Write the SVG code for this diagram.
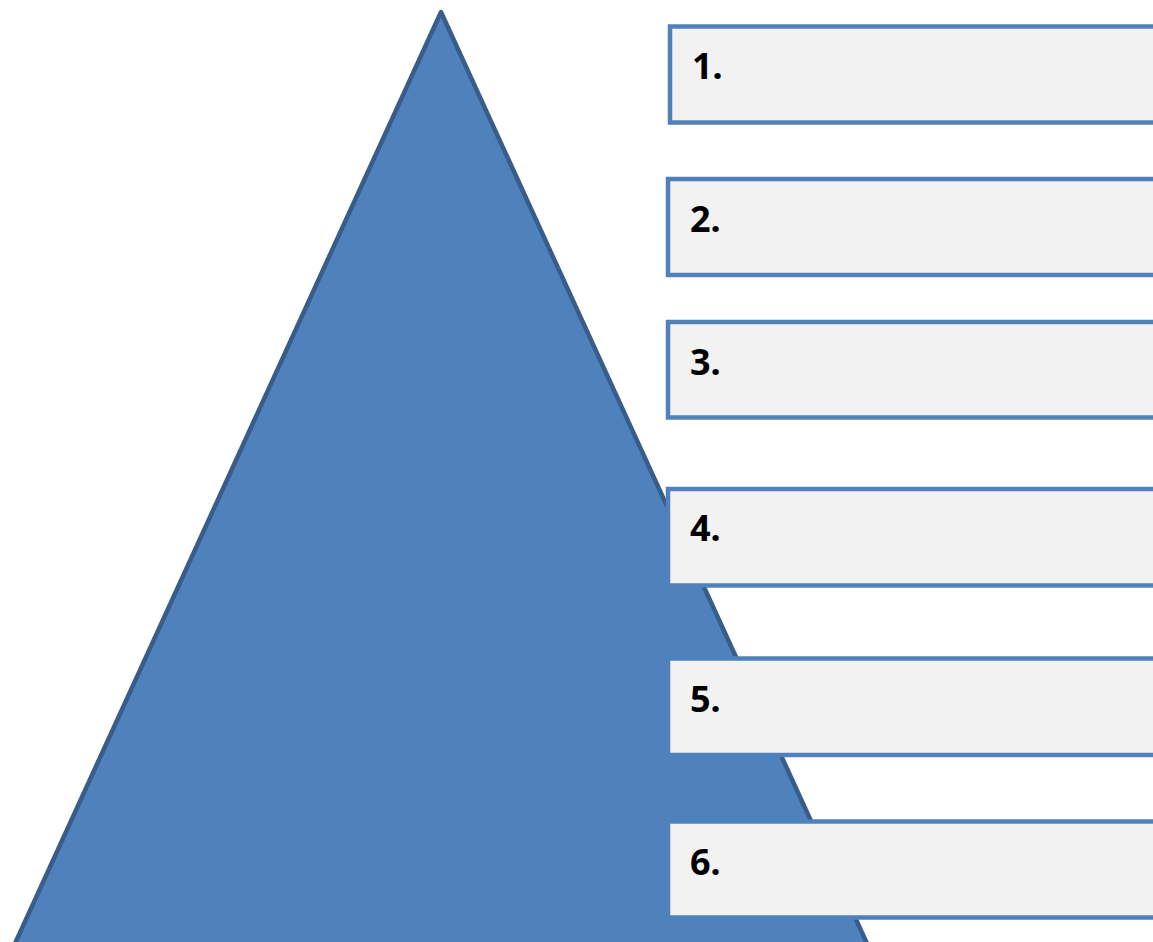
<svg xmlns="http://www.w3.org/2000/svg" width="1153" height="942" viewBox="0 0 1153 942">
<style>
.tri{fill:#4F81BD;stroke:#385D8A;stroke-width:4.5;stroke-linejoin:round}
.box{fill:#F2F2F2;stroke:#4F81BD;stroke-width:4.5}
.lbl{font-family:"Noto Sans","Open Sans",sans-serif;font-weight:bold;font-size:36px;fill:#000}
</style>
<rect width="1153" height="942" fill="#FFFFFF"/>
<g id="pyramid"><polygon class="tri" points="441,12 12,950 870,950"/></g>
<g id="connectors"/>
<g id="item1"><rect class="box" x="670" y="26.5" width="500" height="96"/><text class="lbl" x="692" y="79">1.</text></g>
<g id="item2"><rect class="box" x="668" y="179" width="500" height="96"/><text class="lbl" x="690" y="231.5">2.</text></g>
<g id="item3"><rect class="box" x="668" y="322" width="500" height="95.5"/><text class="lbl" x="690" y="375">3.</text></g>
<g id="item4"><rect class="box" x="668" y="489" width="500" height="96.5"/><text class="lbl" x="690" y="541">4.</text></g>
<g id="item5"><rect class="box" x="668" y="658.5" width="500" height="96.5"/><text class="lbl" x="690" y="711.5">5.</text></g>
<g id="item6"><rect class="box" x="668" y="821.5" width="500" height="96"/><text class="lbl" x="690" y="875">6.</text></g>
</svg>
